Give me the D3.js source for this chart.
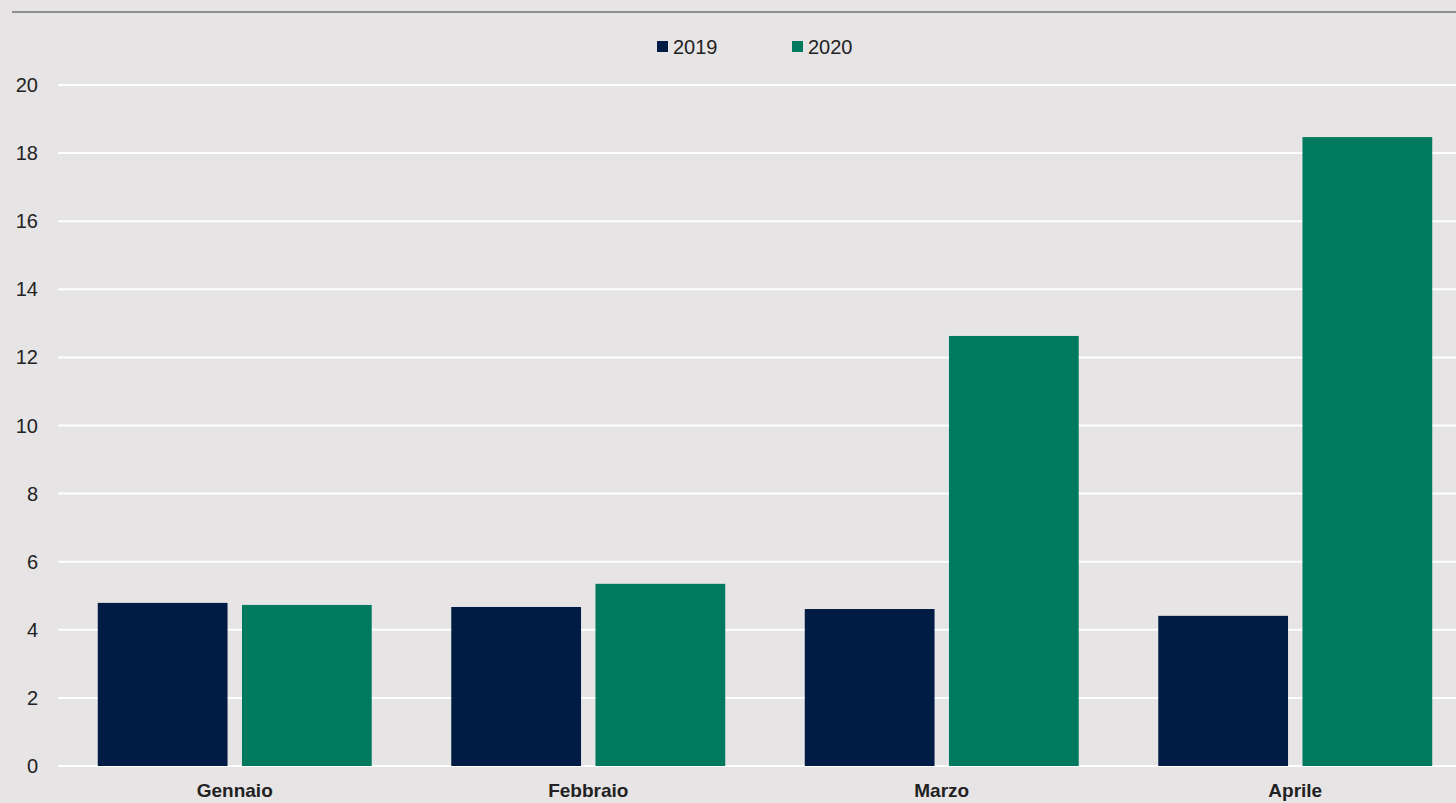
<!DOCTYPE html><html><head><meta charset="utf-8">
<script src="https://cdn.jsdelivr.net/npm/d3@7"></script>
<style>body{margin:0;background:#e6e4e5}svg{display:block}text{font-family:"Liberation Sans Narrow","Arial Narrow","Liberation Sans",sans-serif;fill:#222}</style>
</head><body><svg id="c" width="1456" height="803"></svg><script>
const categories=["Gennaio","Febbraio","Marzo","Aprile"];
const seriesNames=["2019","2020"];
const values2019=[4.79,4.67,4.61,4.41];
const values2020=[4.73,5.35,12.63,18.47];
const yTicks=[0,2,4,6,8,10,12,14,16,18,20];
const colors=["#001b44","#007a5e"];
const svg=d3.select("#c");
svg.append("rect").attr("width",1456).attr("height",803).attr("fill","#e6e4e5");
svg.append("line").attr("x1",12).attr("x2",1456).attr("y1",12).attr("y2",12).attr("stroke","#8e8e8e").attr("stroke-width",2);
const y=d3.scaleLinear().domain([0,20]).range([766,85]);
const x=d3.scaleBand().domain(categories).range([58,1472]).paddingInner(0.225).paddingOuter(0.1125);
const xs=d3.scaleBand().domain(seriesNames).range([0,x.bandwidth()]).paddingInner(0.1);
svg.append("g").selectAll("line").data(yTicks).join("line").attr("x1",58).attr("x2",1456)
 .attr("y1",d=>y(d)).attr("y2",d=>y(d)).attr("stroke","#fff").attr("stroke-width",2);
svg.append("g").selectAll("text").data(yTicks).join("text").attr("x",38).attr("y",d=>y(d)+7)
 .attr("text-anchor","end").attr("font-size",20).text(d=>d);
const data=[values2019,values2020];
seriesNames.forEach((s,i)=>{
 svg.append("g").selectAll("rect").data(categories).join("rect")
  .attr("x",c=>x(c)+xs(s)).attr("width",xs.bandwidth())
  .attr("y",(c,j)=>y(data[i][j])).attr("height",(c,j)=>y(0)-y(data[i][j])).attr("fill",colors[i]);
});
svg.append("g").selectAll("text").data(categories).join("text").attr("x",c=>x(c)+x.bandwidth()/2).attr("y",797)
 .attr("text-anchor","middle").attr("font-size",19).attr("font-weight","bold").text(c=>c);
const lx=[657,792];
seriesNames.forEach((s,i)=>{
 svg.append("rect").attr("x",lx[i]).attr("y",41).attr("width",11).attr("height",11).attr("fill",colors[i]);
 svg.append("text").attr("x",lx[i]+16).attr("y",54).attr("font-size",20).text(s);
});
</script></body></html>
